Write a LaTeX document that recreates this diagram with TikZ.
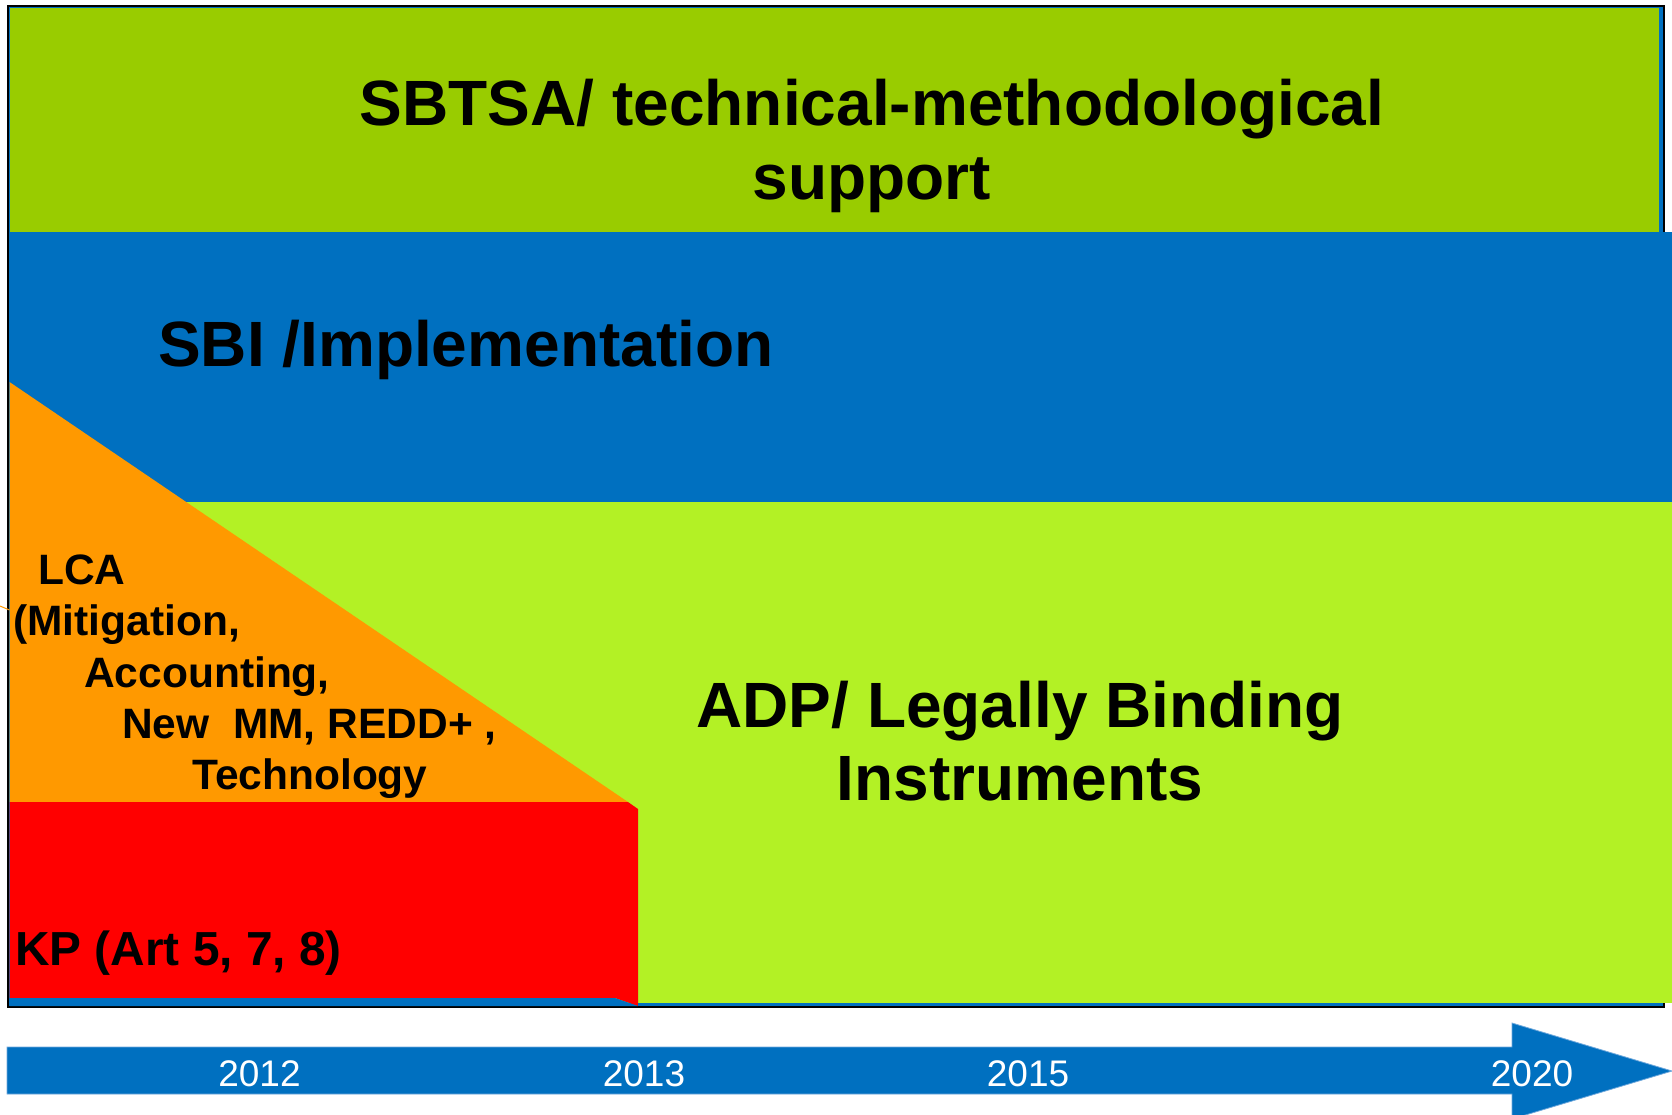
\documentclass[tikz,border=0pt]{standalone}
\usepackage{fontspec}
\setmainfont{Liberation Sans}
\definecolor{topgreen}{HTML}{99CC00}
\definecolor{bandblue}{HTML}{0070C0}
\definecolor{lime}{HTML}{B3F125}
\definecolor{lcaorange}{HTML}{FF9900}
\definecolor{kpred}{HTML}{FF0000}
\definecolor{edgeblue}{HTML}{6FA8DC}
\begin{document}
\begin{tikzpicture}[x=1pt,y=-1pt,
  big/.style={font=\fontsize{64}{74}\selectfont\bfseries, inner sep=0pt, anchor=base},
  mid/.style={font=\fontsize{42.5}{51}\selectfont\bfseries, inner sep=0pt, anchor=base west},
  kp/.style={font=\fontsize{47.8}{56}\selectfont\bfseries, inner sep=0pt, anchor=base west},
  year/.style={font=\fontsize{37}{44}\selectfont, text=white, inner sep=0pt, anchor=base}]
\useasboundingbox (0,0) rectangle (1672,1114);
% frame
\draw[line width=2.5pt, fill=bandblue] (8,6) rectangle (1664,1007);
% bands
\fill[topgreen] (9.5,7.5) rectangle (1659,232);
\fill[bandblue] (9.5,232) rectangle (1672,502);
\fill[lime] (9.5,502) rectangle (1672,1003);
% orange triangle
\fill[lcaorange] (9.5,382) -- (628,802) -- (9.5,802) -- cycle;
\draw[lcaorange, line width=1pt] (0,606) -- (9.5,610);
% red block
\fill[kpred] (9.5,802) -- (628,802) -- (638,809) -- (638,1006) -- (615,998) -- (9.5,998) -- cycle;
% blue strip under the red block
\fill[bandblue] (9.5,998) -- (615,998) -- (638,1006) -- (9.5,1006) -- cycle;
\fill[bandblue] (638,1003) rectangle (1663,1006);
% texts
\node[big] (t1) at (872,125) {SBTSA/ technical-methodological};
\node[big] (t2) at (872,199) {support};
\node[big, anchor=base west] (sbi) at (158,366) {SBI /Implementation};
\node[big] (adp1) at (1020,727) {ADP/ Legally Binding};
\node[big] (adp2) at (1020,800) {Instruments};
\node[mid] (l1) at (38,584) {LCA};
\node[mid] (l2) at (13,635.5) {(Mitigation,};
\node[mid] (l3) at (84,687) {Accounting,};
\node[mid] (l4) at (122,738) {New\ \ MM, REDD+ ,};
\node[mid] (l5) at (192,789) {Technology};
\node[kp] (kp) at (15,965) {KP (Art 5, 7, 8)};
% timeline arrow
\draw[fill=bandblue, draw=edgeblue, line width=0.8pt] (7,1047) -- (1512,1047) -- (1512,1023) -- (1672,1071) -- (1512,1119) -- (1512,1094) -- (7,1094) -- cycle;
\node[year] (y1) at (259.5,1086) {2012};
\node[year] (y2) at (644,1086) {2013};
\node[year] (y3) at (1028,1086) {2015};
\node[year] (y4) at (1532,1086) {2020};
\end{tikzpicture}
\end{document}
